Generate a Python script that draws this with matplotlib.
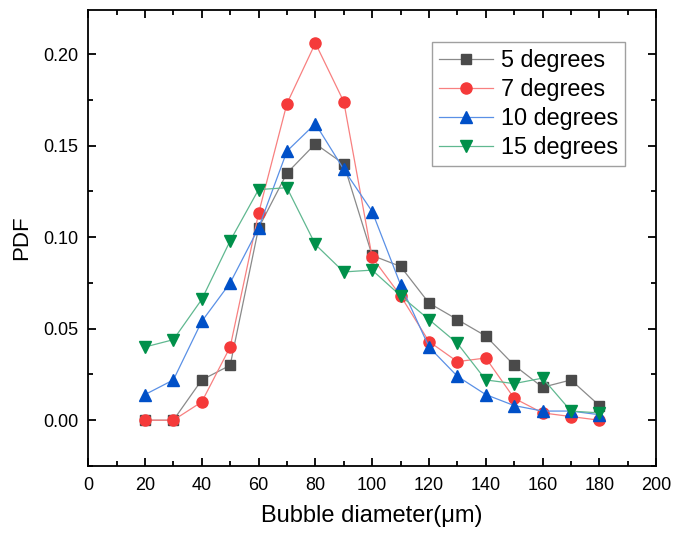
import matplotlib
matplotlib.use('Agg')
import matplotlib.pyplot as plt
from matplotlib.ticker import MultipleLocator

plt.rcParams['font.family'] = ['Liberation Sans', 'DejaVu Sans']

diam = [20, 30, 40, 50, 60, 70, 80, 90, 100, 110, 120, 130, 140, 150, 160, 170, 180]
# PDF values
pdf5 = [0.0, 0.0, 0.022, 0.030, 0.105, 0.135, 0.151, 0.140, 0.090, 0.084, 0.064, 0.055, 0.046, 0.030, 0.018, 0.022, 0.008]
pdf7 = [0.0, 0.0, 0.010, 0.040, 0.113, 0.173, 0.206, 0.174, 0.089, 0.068, 0.043, 0.032, 0.034, 0.012, 0.004, 0.002, 0.000]
pdf10 = [0.014, 0.022, 0.054, 0.075, 0.105, 0.147, 0.162, 0.137, 0.114, 0.074, 0.040, 0.024, 0.014, 0.008, 0.005, 0.005, 0.003]
pdf15 = [0.040, 0.044, 0.066, 0.098, 0.126, 0.127, 0.096, 0.081, 0.082, 0.068, 0.055, 0.042, 0.022, 0.020, 0.023, 0.005, 0.004]
labels = ['5 degrees', '7 degrees', '10 degrees', '15 degrees']

fig = plt.figure(figsize=(6.73, 5.35), dpi=100)
ax = fig.add_axes([0.131, 0.129, 0.844, 0.852])

# (marker, marker colour, line colour)
styles = [('s', '#4a4a4a', '#8a8a8a'),
          ('o', '#f53a3a', '#f88080'),
          ('^', '#0050c8', '#5a90e6'),
          ('v', '#00904a', '#60b890')]

for y, lab, (m, mc, lc) in zip([pdf5, pdf7, pdf10, pdf15], labels, styles):
    ms = 7 if m == 's' else 8
    ax.plot(diam, y, color=lc, lw=0.9, marker=m, ms=ms, mfc=mc, mec=mc, label=lab)

ax.set_xlim(0, 200)
ax.set_ylim(-0.025, 0.224)
ax.xaxis.set_major_locator(MultipleLocator(20))
ax.xaxis.set_minor_locator(MultipleLocator(10))
ax.yaxis.set_minor_locator(MultipleLocator(0.025))
ax.set_yticks([0, 0.05, 0.10, 0.15, 0.20])
ax.set_yticklabels(['0.00', '0.05', '0.10', '0.15', '0.20'])

ax.tick_params(which='both', direction='in', top=True, right=True, width=1.3, labelsize=13)
ax.tick_params(which='major', length=6)
ax.tick_params(which='minor', length=3.5)
ax.tick_params(axis='x', pad=8)
ax.tick_params(axis='y', pad=7)
for s in ax.spines.values():
    s.set_linewidth(1.3)

ax.set_xlabel('Bubble diameter(\u03bcm)', fontsize=17, labelpad=8)
ax.set_ylabel('PDF', fontsize=16, labelpad=8)

leg = ax.legend(loc='upper right', bbox_to_anchor=(0.945, 0.93), fontsize=16.8, fancybox=False,
                edgecolor='#888888', handlelength=2.3, handletextpad=0.35, borderpad=0.3,
                labelspacing=0.26, borderaxespad=0)
leg.get_frame().set_linewidth(1.0)

fig.savefig('out.png', dpi=100)
